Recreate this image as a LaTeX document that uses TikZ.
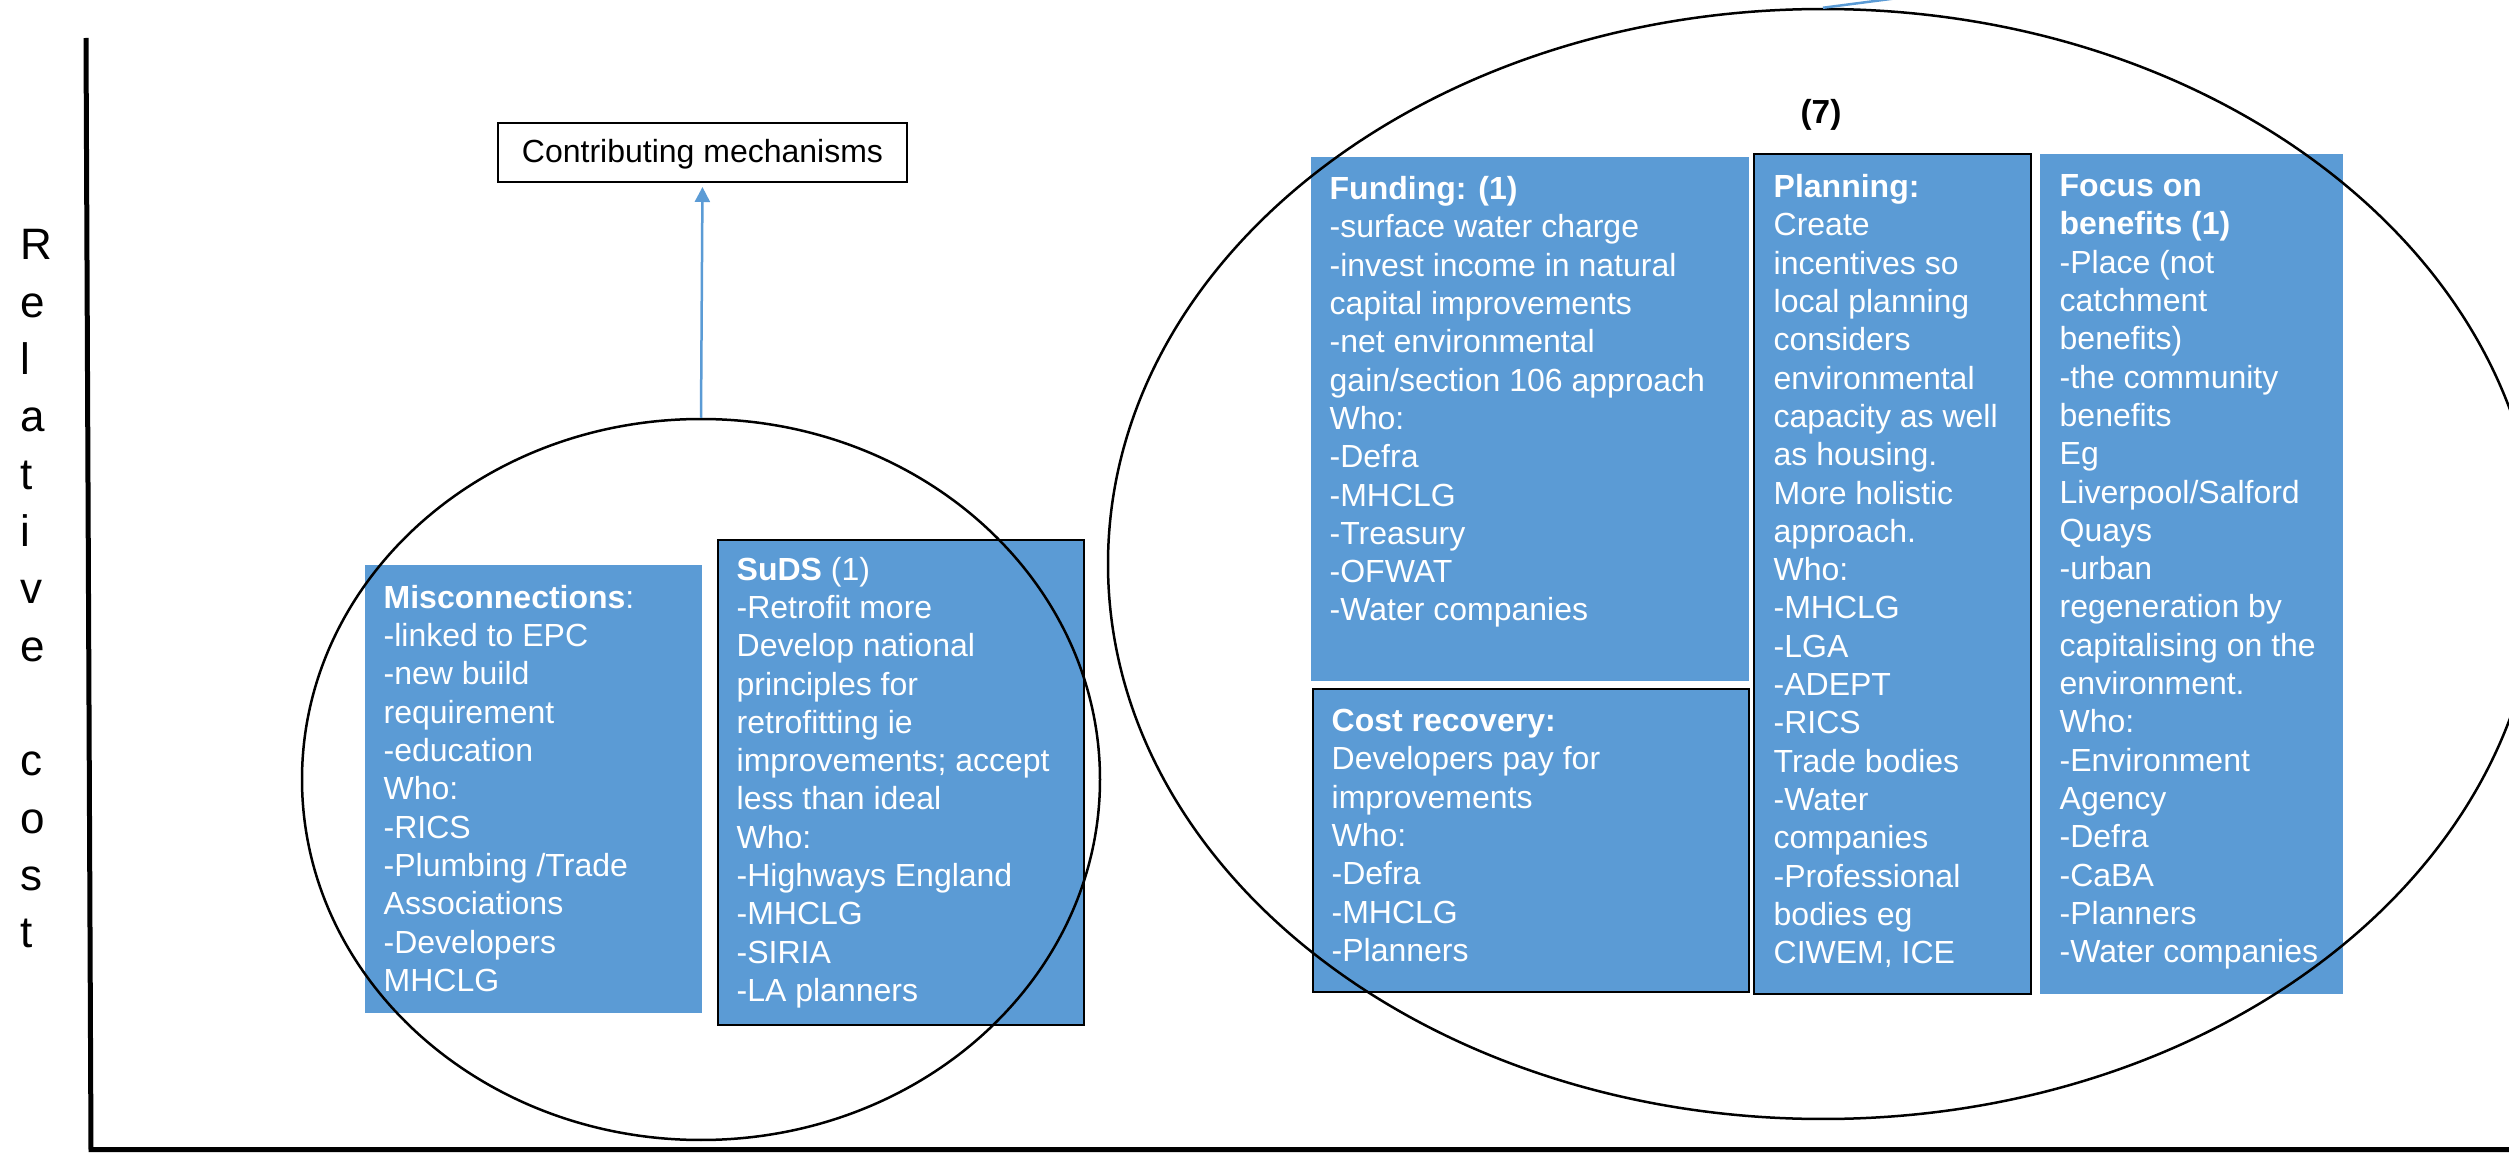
\documentclass[tikz,border=0pt]{standalone}
\usepackage{fontspec}
\setmainfont{Liberation Sans}
\usetikzlibrary{shapes.geometric,arrows.meta}
\definecolor{boxblue}{HTML}{5B9BD5}
\newcommand{\fl}{\rule{0pt}{7.2pt}}
\begin{document}
\begin{tikzpicture}[x=0.3pt,y=-0.3pt,
  plainbox/.style={fill=boxblue, draw=none, anchor=north west, inner sep=0pt, outer sep=0pt},
  edgebox/.style={fill=boxblue, draw=black, line width=0.6pt, anchor=north west, inner sep=0pt, outer sep=0pt},
  boxtext/.style={anchor=north west, inner sep=0pt, align=left, text=white, font=\fontsize{9.6pt}{11.49pt}\selectfont},
  ring/.style={draw=black, line width=0.75pt, ellipse, inner sep=0pt},
  blueline/.style={draw=boxblue, line width=0.75pt},
  axis/.style={draw=black, line width=1.5pt, line join=miter}
]
\useasboundingbox (0,0) rectangle (2509,1153);
\clip (0,0) rectangle (2509,1153);

% boxes
\node[plainbox, minimum width=101.1pt, minimum height=134.4pt] (misc) at (365,565) {};
\node[edgebox, minimum width=109.8pt, minimum height=145.5pt] (suds) at (718,540) {};
\node[plainbox, minimum width=131.4pt, minimum height=157.2pt] (fund) at (1311,157) {};
\node[edgebox, minimum width=130.8pt, minimum height=90.9pt] (cost) at (1313,689) {};
\node[edgebox, minimum width=83.1pt, minimum height=252pt] (plan) at (1754,154) {};
\node[plainbox, minimum width=90.9pt, minimum height=252pt] (focus) at (2040,154) {};

% texts
\node[boxtext] (misctext) at (383,583.7) {\fl\textbf{Misconnections}:\\-linked to EPC\\-new build\\requirement\\-education\\Who:\\-RICS\\-Plumbing /Trade\\Associations\\-Developers\\MHCLG};
\node[boxtext] (sudstext) at (736,555.5) {\fl\textbf{SuDS} (1)\\-Retrofit more\\Develop national\\principles for\\retrofitting ie\\improvements; accept\\less than ideal\\Who:\\-Highways England\\-MHCLG\\-SIRIA\\-LA planners};
\node[boxtext] (fundtext) at (1329,175) {\fl\textbf{Funding: (1)}\\-surface water charge\\-invest income in natural\\capital improvements\\-net environmental\\gain/section 106 approach\\Who:\\-Defra\\-MHCLG\\-Treasury\\-OFWAT\\-Water companies};
\node[boxtext] (costtext) at (1331,707) {\fl\textbf{Cost recovery:}\\Developers pay for\\improvements\\Who:\\-Defra\\-MHCLG\\-Planners};
\node[boxtext] (plantext) at (1773,173) {\fl\textbf{Planning:}\\Create\\incentives so\\local planning\\considers\\environmental\\capacity as well\\as housing.\\More holistic\\approach.\\Who:\\-MHCLG\\-LGA\\-ADEPT\\-RICS\\Trade bodies\\-Water\\companies\\-Professional\\bodies eg\\CIWEM, ICE};
\node[boxtext] (focustext) at (2059,172) {\fl\textbf{Focus on}\\\textbf{benefits (1)}\\-Place (not\\catchment\\benefits)\\-the community\\benefits\\Eg\\Liverpool/Salford\\Quays\\-urban\\regeneration by\\capitalising on the\\environment.\\Who:\\-Environment\\Agency\\-Defra\\-CaBA\\-Planners\\-Water companies};

% label (7)
\node[inner sep=0pt, font=\fontsize{10pt}{12pt}\selectfont\bfseries] (seven) at (1821,115) {(7)};

% Relative cost
\node[anchor=north west, inner sep=0pt, align=left, font=\fontsize{13.2pt}{17.2pt}\selectfont] (ylabel) at (20,225.7) {\rule{0pt}{10pt}R\\e\\l\\a\\t\\i\\v\\e\\\mbox{}\\c\\o\\s\\t};

% contributing mechanisms
\node[draw=black, line width=0.6pt, minimum width=122.7pt, minimum height=17.7pt, inner sep=0pt, text height=7.5pt, text depth=1.5pt, font=\fontsize{9.6pt}{11.5pt}\selectfont] (cm) at (702.5,152.5) {Contributing mechanisms};

% ellipses
\node[ring, minimum width=239.4pt, minimum height=216.3pt] (lell) at (701,779.5) {};
\node[ring, minimum width=429pt, minimum height=333pt] (rell) at (1823,564) {};

% connectors
\draw[blueline, -{Triangle[length=4.5pt,width=4.5pt]}, shorten >=1.2pt] (lell.north) -- (cm.south);
\coordinate (offtop) at (1952,-9);
\draw[blueline] (rell.north) -- (offtop);

% axes
\coordinate (ytop) at (86,38);
\coordinate (orig) at (91,1149.5);
\coordinate (xend) at (2530,1149.5);
\draw[axis] (ytop) -- (orig) -- (xend);
\end{tikzpicture}
\end{document}
